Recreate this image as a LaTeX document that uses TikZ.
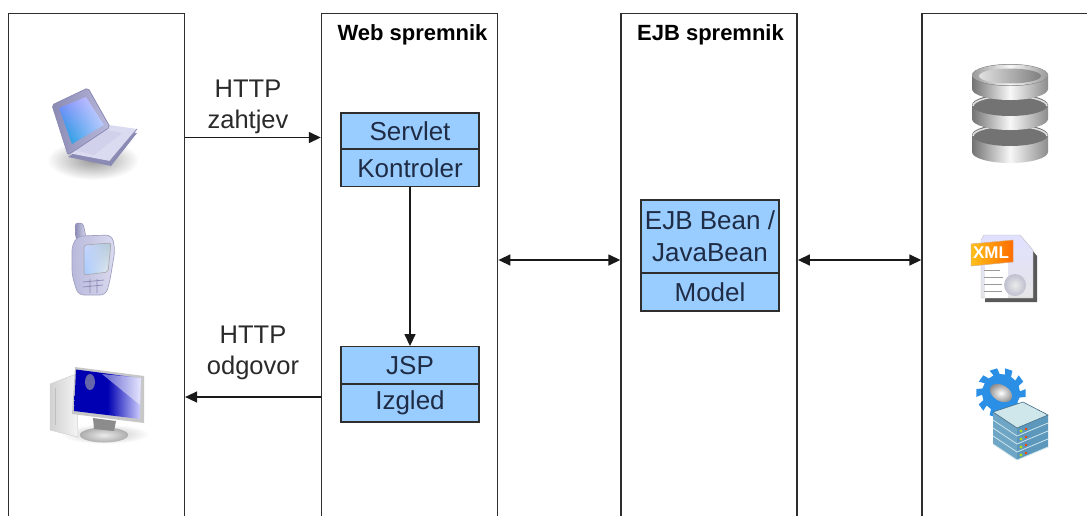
\documentclass[tikz,border=0pt]{standalone}
\usepackage{fontspec}
\setmainfont{Liberation Sans}
\usetikzlibrary{arrows.meta,calc,shadings}
\definecolor{boxblue}{HTML}{99CCFF}
\definecolor{lineC}{HTML}{2E2E2E}
\definecolor{txtC}{HTML}{2A2A2A}
\definecolor{boxtxt}{HTML}{1F2C45}
\definecolor{lav}{HTML}{B9B9DC}
\definecolor{lavD}{HTML}{8A8AB4}
\definecolor{lavL}{HTML}{DADAF0}
\definecolor{gearB}{HTML}{2B8FE6}
\definecolor{srvTop}{HTML}{CFE6EA}
\definecolor{srvL}{HTML}{6FA6C6}
\definecolor{srvR}{HTML}{5C97BC}
\tikzset{
 panel/.style={draw=lineC,line width=1.6pt,fill=white,anchor=north west,minimum width=176pt,minimum height=540pt,inner sep=0pt},
 boxpart/.style={draw=lineC,line width=1.4pt,fill=boxblue,text=boxtxt,inner sep=0pt,minimum width=138pt,font=\fontsize{26}{29}\selectfont,align=center},
 title/.style={font=\bfseries\fontsize{22}{24}\selectfont,text=black,inner sep=0pt},
 lbl/.style={font=\fontsize{25.5}{31}\selectfont,text=txtC,align=center,inner sep=0pt},
 conn/.style={line width=1.5pt,draw=black!90,-{Triangle[length=12pt,width=11pt]}},
 conn2/.style={line width=1.5pt,draw=black!90,{Triangle[length=12pt,width=11pt]}-{Triangle[length=12pt,width=11pt]}},
}
\begin{document}
\begin{tikzpicture}[x=1pt,y=-1pt]
\useasboundingbox (0,0) rectangle (1087,515);
\fill[white] (0,0) rectangle (1087,515);
\clip (0,0) rectangle (1087,515);
% panels
\node[panel] (client) at (7.5,12.5) {};
\node[panel] (web) at (320.8,12.5) {};
\node[panel] (ejb) at (620.3,12.5) {};
\node[panel] (data) at (921.3,12.5) {};
\node[title] (webt) at (412.5,35) {Web spremnik};
\node[title] (ejbt) at (710.5,35) {EJB spremnik};
% boxes
\node[boxpart,minimum height=36pt] (servlet) at (410,131) {Servlet};
\node[boxpart,minimum height=37.5pt] (kontroler) at (410,168) {Kontroler};
\node[boxpart,minimum height=37.5pt] (jsp) at (410,365.5) {JSP};
\node[boxpart,minimum height=38pt] (izgled) at (410,403) {Izgled};
\node[boxpart,minimum height=73pt,font=\fontsize{26}{32}\selectfont] (bean) at (710,236.5) {EJB Bean /\\JavaBean};
\node[boxpart,minimum height=38pt] (model) at (710,292) {Model};
% labels
\node[lbl] (req) at (248,106.5) {HTTP\\zahtjev};
\node[lbl] (res) at (253,352.5) {HTTP\\odgovor};
% connectors
\draw[conn] (client.east |- 0,137.5) -- (web.west |- 0,137.5);
\draw[conn] (web.west |- 0,397) -- (client.east |- 0,397);
\draw[conn] (kontroler.south) -- (jsp.north);
\draw[conn2] (web.east |- 0,260) -- (ejb.west |- 0,260);
\draw[conn2] (ejb.east |- 0,260) -- (data.west |- 0,260);

% --- laptop
\shade[inner color=black!40,outer color=white] (93,160) ellipse [x radius=46,y radius=20];
\fill[lavD] (68,157) -- (110,129) -- (137,133) -- (111,166) -- cycle;
\fill[lavL] (68,153) -- (109,125) -- (137,129) -- (110,161) -- cycle;
\fill[black!42!blue!18] (74,150) -- (106,130) -- (122,133) -- (94,155) -- cycle;
\draw[lavD,line width=.8pt] (110,161) -- (137,129);
\shade[left color=lavD,right color=lav,draw=lavD,line width=.8pt,rounded corners=2pt] (52,105) -- (88,88) -- (110,127) -- (68,155) -- cycle;
\shade[lower left=blue!30!cyan!85!black,upper right=blue!15!white,lower right=cyan!30!blue!35,upper left=blue!45!white] (59,108) -- (86,97) -- (104,125) -- (72,144) -- cycle;

% --- phone
\shade[left color=lavD,right color=lavL,draw=lavD,line width=.5pt,rounded corners=3pt] (75,223) -- (83,223) -- (86,237) -- (76,240) -- cycle;
\shade[left color=lav,right color=lavL,draw=lavD!80,line width=.7pt,rounded corners=6pt] (72,245) -- (78,236) -- (112,235) -- (115,250) -- (110,280) -- (106,295) -- (78,295) -- (72,275) -- cycle;
\shade[upper left=cyan!25!blue!22,upper right=blue!35!cyan!45!black!30,lower left=cyan!40!blue!35,lower right=cyan!12!black!8,draw=black!35,line width=.6pt,rounded corners=2pt] (84,245) -- (111,243) -- (108,272) -- (84,275) -- cycle;
\draw[lavD,line width=.7pt] (83,282) -- (104,280) (83,287) -- (103,285) (90,279) -- (90,293) (97,279) -- (97,293);

% --- desktop
\shade[inner color=black!25,outer color=white] (105,434) ellipse [x radius=44,y radius=10];
\shade[left color=black!18,right color=black!4,draw=black!18,line width=.5pt] (50,384) -- (76,374) -- (78,437) -- (50,430) -- cycle;
\draw[black!25,line width=.8pt] (55,388) -- (55,425);
\shade[inner color=black!8,outer color=black!32] (104,435) ellipse [x radius=24,y radius=7.5];
\fill[black!45] (93,418) -- (116,421) -- (114,431) -- (94,429) -- cycle;
\fill[black!22] (72,414) -- (144,423) -- (144,376) -- (75,367) -- cycle;
\shade[left color=blue!70!black,right color=blue!18!white,middle color=blue!70!black] (76,369.5) -- (141,378) -- (140,419) -- (74,411) -- cycle;
\fill[white,opacity=.45] (102,374) -- (141,378) -- (140,405) -- cycle;
\fill[blue!45!black!60!white] (90,382) ellipse [x radius=5,y radius=8];

% --- database
\foreach \c/\b in {135/152,105/119,75/89}{
  \shade[left color=black!55,right color=black!45,middle color=black!3]
    (972,\c) -- (1048,\c) -- (1048,\b)
    arc[start angle=0,end angle=180,x radius=38,y radius=11] -- cycle;
  \fill[black!55] (1010,\c) ellipse [x radius=38,y radius=11];
  \draw[black!12,line width=1.5pt] (973,\c+1) arc[start angle=180,end angle=360,x radius=37,y radius=10];
}
\shade[left color=black!40,right color=black!40,middle color=black!3] (1010,75) ellipse [x radius=38,y radius=10.5];
\shade[left color=black!12,right color=black!50] (1010,76) ellipse [x radius=31,y radius=7.5];

% --- xml
\fill[black!65] (990,240) -- (1024,240) -- (1037,256) -- (1037,302) -- (985,302) -- cycle;
\shade[top color=blue!12,bottom color=blue!8!black!10,draw=black!25,line width=.4pt] (984,235) -- (1020,235) -- (1033,250) -- (1033,298) -- (981,298) -- (981,240) -- cycle;
\fill[white] (985,262) rectangle (1008,298);
\draw[black!40,line width=.8pt] (984,270) -- (1000,270) (984,277) -- (1003,277) (984,284) -- (1002,284) (984,291) -- (1002,291);
\shade[inner color=blue!5!black!8,outer color=blue!25!black!25] (1015,285) circle (11);
\shade[left color=orange!55!yellow!90!white,right color=orange!85!red,draw=orange!70!black!50,line width=.5pt] (971,244) -- (1013,240) -- (1013,262) -- (971,266) -- cycle;
\node[inner sep=0pt,text=white,font=\bfseries\fontsize{17}{18}\selectfont] (xml) at (991,253) {XML};

% --- gear
\fill[gearB] ($(1001,393)+(-9:25)$)
  \foreach \a in {0,36,...,324}{
    -- ($(1001,393)+(\a-9:25)$)
    -- ($(1001,393)+(\a+9:25)$) -- ($(1001,393)+(\a+14:19)$) -- ($(1001,393)+(\a+31:19)$)
  } -- cycle;
\shade[inner color=white,outer color=black!45,rotate around={-30:(1001,393)}] (1001,393) ellipse [x radius=12,y radius=8];
% --- server
\foreach \d in {24,16,8,0}{
  \fill[srvL] (993,412+\d) -- (1017,428+\d) -- (1017,436+\d) -- (993,420+\d) -- cycle;
  \fill[srvR] (1017,428+\d) -- (1048,415+\d) -- (1048,423+\d) -- (1017,436+\d) -- cycle;
  \draw[srvTop,line width=.8pt] (993,420+\d) -- (1017,436+\d) -- (1048,423+\d);
  \fill[yellow!70!green] (1021,431+\d) circle (1.7);
  \fill[red!50!orange] (1026,429+\d) circle (1.4);
}
\fill[srvTop,draw=srvR!70!black,line width=.6pt] (993,412) -- (1023,402) -- (1048,415) -- (1017,428) -- cycle;
\end{tikzpicture}
\end{document}
